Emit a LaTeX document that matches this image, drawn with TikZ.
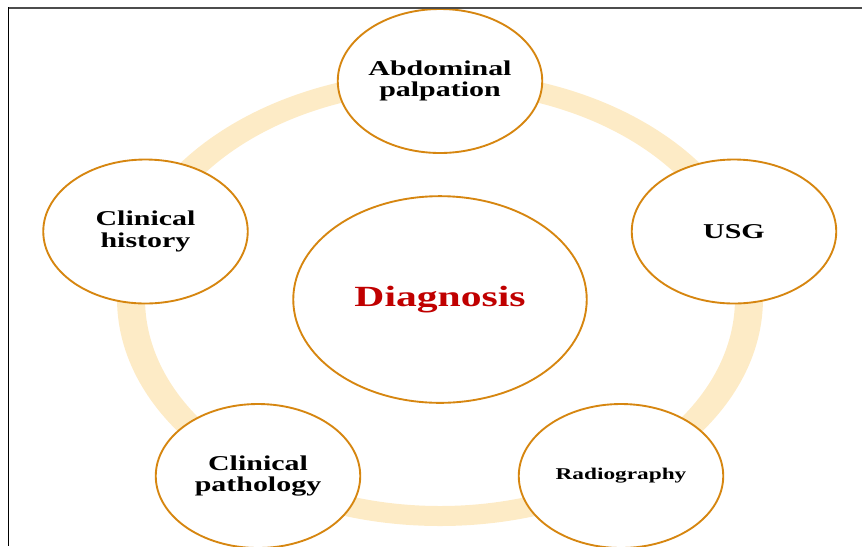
\documentclass[tikz,border=0pt]{standalone}
\usepackage{fontspec}
\setmainfont{Liberation Serif}
\usepackage{tikz}
\usetikzlibrary{shapes,positioning}
\definecolor{ringfill}{RGB}{253,235,198}
\definecolor{rim}{RGB}{214,134,16}
\definecolor{dxred}{RGB}{192,0,0}
\tikzset{
bubble/.style = {draw=rim, line width=1.6pt, fill=white, circle, minimum size=4.32cm, xscale=1.42, inner sep=0pt, align=center, font=\fontsize{18}{18.5}\selectfont\bfseries},
hub/.style    = {bubble, minimum size=6.2cm, text=dxred, font=\fontsize{25}{26}\selectfont\bfseries},
ring/.style   = {fill=ringfill, even odd rule}
}

\begin{document}
\begin{tikzpicture}[x=0.03cm, y=-0.03cm]
  \useasboundingbox (0,0) rectangle (862,546);

  % pale band running behind the five bubbles
  \fill [ring] (440,298.5) ellipse [x radius=323, y radius=227.5]
               (440,298.5) ellipse [x radius=295, y radius=207.5];

  \node [hub]    (diag)  at (440,299.5)   {Diagnosis};
  \node [bubble] (palp)  at (440,81)      {Abdominal\\palpation};
  \node [bubble] (usg)   at (734,231.5)   {USG};
  \node [bubble, font=\fontsize{14}{15}\selectfont\bfseries]
                 (radio) at (621,476)     {Radiography};
  \node [bubble] (path)  at (258,476)     {Clinical\\pathology};
  \node [bubble] (hist)  at (145.5,231.5) {Clinical\\history};

  % frame
  \draw [line width=1.7pt, black!70] (8,7.5) -- (862,7.5);
  \draw [line width=1.3pt] (8.5,7) -- (8.5,546);
\end{tikzpicture}
\end{document}
